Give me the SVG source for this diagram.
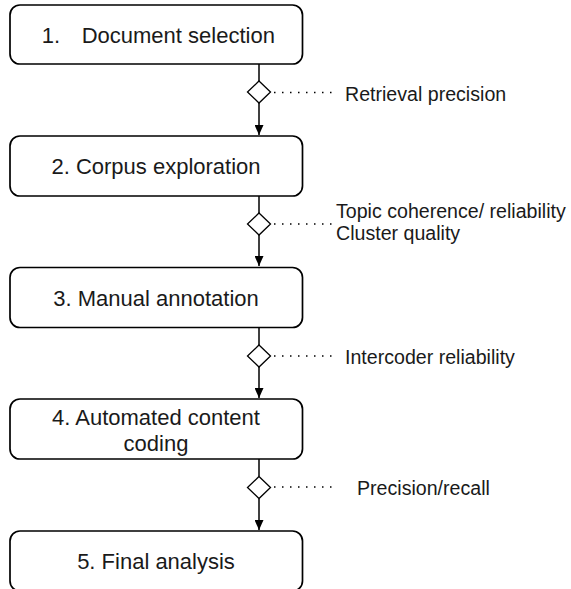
<svg xmlns="http://www.w3.org/2000/svg" width="571" height="589" viewBox="0 0 571 589">
  <style>
    .box { fill: #ffffff; stroke: #000000; stroke-width: 1.7; }
    .step { font-family: "Liberation Sans", Arial, sans-serif; font-size: 22px; fill: #1a1a1a; text-anchor: middle; }
    .note { font-family: "Liberation Sans", Arial, sans-serif; font-size: 19.6px; fill: #1a1a1a; }
    .flow { stroke: #000000; stroke-width: 1.5; fill: none; }
    .gate { fill: #ffffff; stroke: #000000; stroke-width: 1.3; }
    .dots { stroke: #000000; stroke-width: 1.4; stroke-dasharray: 1.5 6.5; fill: none; }
  </style>
  <defs>
    <marker id="arrow" markerWidth="10" markerHeight="9" refX="10" refY="4.5" orient="auto" markerUnits="userSpaceOnUse" viewBox="0 0 10 9">
      <path d="M0,0 L10,4.5 L0,9 z" fill="#000000"/>
    </marker>
  </defs>

  <rect width="571" height="589" fill="#ffffff"/>

  <!-- connectors: vertical flow with quality-check diamonds -->
  <g id="connectors">
    <line class="flow" x1="259" y1="64" x2="259" y2="81"/>
    <line class="flow" x1="259" y1="103" x2="259" y2="135" marker-end="url(#arrow)"/>
    <polygon class="gate" points="259,81 270.5,92 259,103 247.5,92"/>
    <line class="dots" x1="274" y1="92.5" x2="338" y2="92.5"/>

    <line class="flow" x1="259" y1="196" x2="259" y2="213"/>
    <line class="flow" x1="259" y1="235" x2="259" y2="266" marker-end="url(#arrow)"/>
    <polygon class="gate" points="259,213 270.5,224 259,235 247.5,224"/>
    <line class="dots" x1="274" y1="224" x2="336" y2="224"/>

    <line class="flow" x1="259" y1="328" x2="259" y2="345"/>
    <line class="flow" x1="259" y1="367" x2="259" y2="398" marker-end="url(#arrow)"/>
    <polygon class="gate" points="259,345 270.5,356 259,367 247.5,356"/>
    <line class="dots" x1="274" y1="356" x2="338" y2="356"/>

    <line class="flow" x1="259" y1="459" x2="259" y2="476.5"/>
    <line class="flow" x1="259" y1="498.5" x2="259" y2="530" marker-end="url(#arrow)"/>
    <polygon class="gate" points="259,476.5 270.5,487.5 259,498.5 247.5,487.5"/>
    <line class="dots" x1="274" y1="487" x2="338" y2="487"/>
  </g>

  <!-- check labels -->
  <g id="labels">
    <text class="note" x="345" y="100.5">Retrieval precision</text>
    <text class="note" x="336" y="217.5">Topic coherence/ reliability</text>
    <text class="note" x="336" y="240">Cluster quality</text>
    <text class="note" x="345" y="363.5">Intercoder reliability</text>
    <text class="note" x="357" y="495">Precision/recall</text>
  </g>

  <g id="step1">
    <rect class="box" x="10" y="5" width="292.5" height="59" rx="10"/>
    <text class="step" style="text-anchor:start" x="41.7" y="43.3">1.<tspan x="81.7">Document selection</tspan></text>
  </g>

  <g id="step2">
    <rect class="box" x="10" y="136" width="292.5" height="60" rx="10"/>
    <text class="step" x="156" y="174">2. Corpus exploration</text>
  </g>

  <g id="step3">
    <rect class="box" x="10" y="267.5" width="292.5" height="60" rx="10"/>
    <text class="step" x="156" y="306">3. Manual annotation</text>
  </g>

  <g id="step4">
    <rect class="box" x="10" y="399" width="292.5" height="60" rx="10"/>
    <text class="step" x="156" y="425">4. Automated content</text>
    <text class="step" x="156" y="450.7">coding</text>
  </g>

  <g id="step5">
    <rect class="box" x="10" y="531" width="292.5" height="60" rx="10"/>
    <text class="step" x="156" y="569.3">5. Final analysis</text>
  </g>
</svg>
